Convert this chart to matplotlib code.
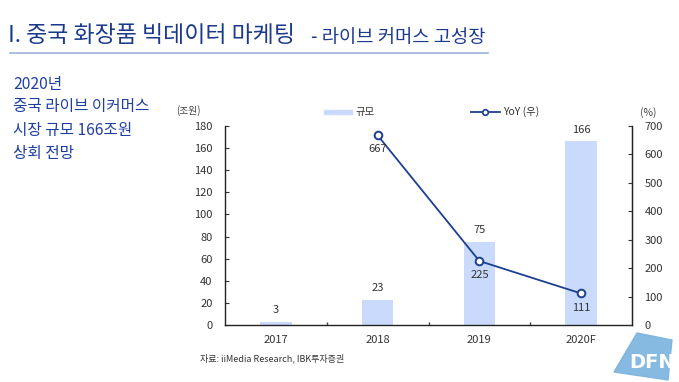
import matplotlib
matplotlib.use("Agg")
import matplotlib.pyplot as plt
from matplotlib.patches import Polygon, Rectangle
from matplotlib.lines import Line2D

plt.rcParams['font.family'] = ['Noto Sans CJK KR', 'DejaVu Sans']

categories = ['2017', '2018', '2019', '2020F']
size_values = [3, 23, 75, 166]
yoy_values = [None, 667, 225, 111]
left_ticks = [0, 20, 40, 60, 80, 100, 120, 140, 160, 180]
right_ticks = [0, 100, 200, 300, 400, 500, 600, 700]

BAR = '#c9dafc'
LINE = '#1c3f8f'
TITLE = '#1b3a8c'
TXT = '#333333'

fig = plt.figure(figsize=(6.79, 3.82), dpi=100)
fig.patch.set_facecolor('white')

# Title
fig.text(8/679, 1-35/382, 'I. 중국 화장품 빅데이터 마케팅', fontsize=16.5, color=TITLE,
         va='center', ha='left')
fig.text(311/679, 1-37/382, '- 라이브 커머스 고성장', fontsize=13.5, color=TITLE,
         va='center', ha='left')
fig.add_artist(Line2D([10/679, 488/679], [1-53/382, 1-53/382], color='#9fb2d6', lw=1.2))

# Left text
left_lines = ['2020년', '중국 라이브 이커머스', '시장 규모 166조원', '상회 전망']
ys = [84, 107, 130, 153]
for t, y in zip(left_lines, ys):
    fig.text(13/679, 1-y/382, t, fontsize=11.3, color='#1f3fa0', va='center', ha='left')

ax = fig.add_axes([225/679, 1-325/382, (632-225)/679, (325-126)/382])
x = list(range(len(categories)))
ax.bar(x, size_values, width=0.31, color=BAR, zorder=1)
ax.set_xlim(-0.5, 3.5)
ax.set_ylim(0, 180)
ax.set_yticks(left_ticks)
ax.set_xticks(x)
ax.set_xticklabels(categories)
ax.tick_params(axis='x', length=0, labelsize=8, colors=TXT, pad=7)
ax.tick_params(axis='y', direction='in', length=3, labelsize=8, colors=TXT, pad=9)
ax.set_xticks([0.5, 1.5, 2.5], minor=True)
ax.tick_params(axis='x', which='minor', direction='in', length=2, width=1, color='#444444')
ax.spines['top'].set_visible(False)
for s in ['left', 'right', 'bottom']:
    ax.spines[s].set_color('#222222')
    ax.spines[s].set_linewidth(1.0)

for xi, v in zip(x, size_values):
    ax.text(xi, v + 6, f'{v}', ha='center', va='bottom', fontsize=8, color=TXT)

ax2 = ax.twinx()
ax2.set_ylim(0, 700)
ax2.set_yticks(right_ticks)
ax2.tick_params(axis='y', direction='in', length=3, labelsize=8, colors=TXT, pad=9)
ax2.spines['top'].set_visible(False)
ax2.spines['right'].set_color('#222222')
ax2.spines['left'].set_visible(False)
ax2.spines['bottom'].set_visible(False)
lx = [xi for xi, v in zip(x, yoy_values) if v is not None]
ly = [v for v in yoy_values if v is not None]
ax2.plot(lx, ly, color=LINE, lw=1.3, marker='o', markersize=5.5,
         markerfacecolor='white', markeredgecolor=LINE, markeredgewidth=1.4, zorder=3)
for xi, v in zip(lx, ly):
    ax2.text(xi, v - 32, f'{v}', ha='center', va='top', fontsize=8, color=TXT)

# unit labels
fig.text(188/679, 1-111/382, '(조원)', fontsize=7, color='#444444', va='center', ha='center')
fig.text(648/679, 1-113/382, '(%)', fontsize=7.5, color='#444444', va='center', ha='center')

# legend
fig.add_artist(Rectangle((324/679, 1-114/382), 28/679, 4/382, color=BAR, transform=fig.transFigure))
fig.text(356/679, 1-112/382, '규모', fontsize=7.5, color=TXT, va='center', ha='left')
fig.add_artist(Line2D([471/679, 500/679], [1-112/382, 1-112/382], color=LINE, lw=1.3))
fig.add_artist(Line2D([485/679], [1-112/382], color=LINE, marker='o', markersize=4,
                      markerfacecolor='white', markeredgecolor=LINE, markeredgewidth=1.2))
fig.text(503/679, 1-112/382, 'YoY (우)', fontsize=7.5, color=TXT, va='center', ha='left')

# source
fig.text(200/679, 1-358/382, '자료: iiMedia Research, IBK투자증권', fontsize=6.5, color=TXT,
         va='center', ha='left')

# watermark logo
poly = Polygon([(637/679, 1-333/382), (672/679, 1-340/382), (668/679, 1-380/382), (614/679, 1-372/382)],
               closed=True, color='#7ab3de', transform=fig.transFigure, alpha=0.9)
fig.add_artist(poly)
fig.text(652/679, 1-362/382, 'DFN', fontsize=14, color='white', va='center', ha='center',
         fontweight='bold', family='DejaVu Sans')

fig.savefig('out.png', dpi=100)
